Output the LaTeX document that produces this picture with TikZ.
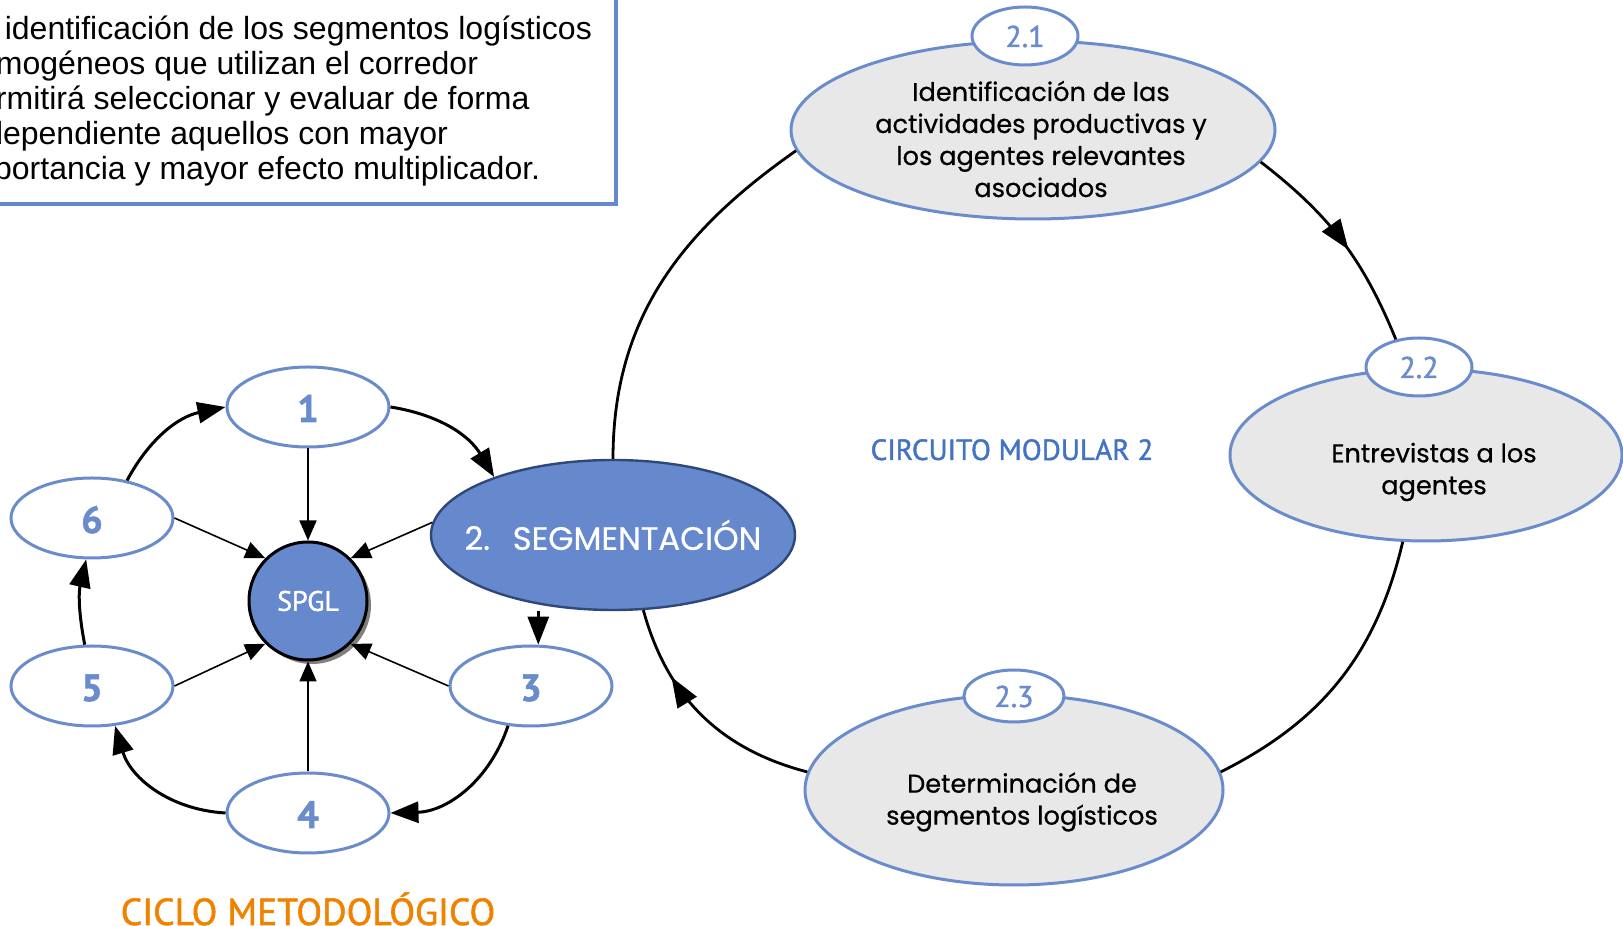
\documentclass[tikz,border=0pt]{standalone}
\usepackage{fontspec}
\setmainfont{Liberation Sans}
\newfontfamily\gothicfont{Poppins}[FakeBold=0.6]
\newfontfamily\tcfont{PT Sans}[FakeBold=1.4]
\usetikzlibrary{arrows.meta,shapes.geometric,shadows,decorations.markings}

\tikzset{
  stepell/.style={ellipse, draw={rgb,255:red,106;green,140;blue,204}, line width=1.5pt, fill=white, inner sep=0pt,
    minimum width=81pt, minimum height=40pt, text={rgb,255:red,106;green,140;blue,204},
    font=\tcfont\bfseries\fontsize{19pt}{22pt}\selectfont, text height=15pt, text depth=0pt},
  tagell/.style={stepell, minimum width=53pt, minimum height=29pt, font=\tcfont\fontsize{15pt}{18pt}\selectfont,
    text height=11pt},
  subell/.style={ellipse, draw={rgb,255:red,106;green,140;blue,204}, line width=1.5pt, fill={rgb,255:red,232;green,232;blue,232}, inner sep=0pt},
  subtxt/.style={align=center, inner sep=0pt, font=\gothicfont\fontsize{12.8pt}{16pt}\selectfont},
  cyc/.style={line width=1.5pt, -{Triangle[length=14pt,width=10.5pt]}},
  ray/.style={line width=0.8pt, -{Triangle[length=10pt,width=8.5pt]}},
  loopline/.style={line width=1.4pt},
  midtip/.style={postaction={decorate}, decoration={markings, mark=at position #1 with {\arrow{Triangle[length=15pt,width=11pt]}}}},
  midtip/.default=0.5
}

\begin{document}
\begin{tikzpicture}[x=0.5pt,y=0.5pt]
\useasboundingbox (0,0) rectangle (1623,926);
\clip (0,0) rectangle (1623,926);

% Text box
\draw [color={rgb, 255:red, 100; green, 135; blue, 205 }, line width=1.6pt] (-20,722) rectangle (616,950);
\node [anchor=north west, inner sep=0pt, align=left, font=\fontsize{16pt}{17.5pt}\selectfont] (note) at (-40,910)
  {La identificación de los segmentos logísticos\\homogéneos que utilizan el corredor\\permitirá seleccionar y evaluar de forma\\independiente aquellos con mayor\\importancia y mayor efecto multiplicador.};

%Ciclo: steps
\node [stepell] (e1) at (308,519) {1};
\node [stepell] (e6) at (92,408) {6};
\node [stepell] (e5) at (92,240) {5};
\node [stepell] (e4) at (308,113) {4};
\node [stepell] (e3) at (531,240) {3};
\node [ellipse, fill={rgb,255:red,102;green,136;blue,204}, draw={rgb,255:red,47;green,72;blue,122}, line width=1.2pt,
  minimum width=182pt, minimum height=75pt, inner xsep=-10pt, inner ysep=0pt, text=white,
  font=\gothicfont\fontsize{16.2pt}{19pt}\selectfont] (seg) at (613,391) {2.\hspace{0.7em}SEGMENTACIÓN};
\node [circle, fill={rgb,255:red,102;green,136;blue,204}, draw=black, line width=1.5pt, minimum size=59pt, inner sep=0pt,
  text=white, font=\tcfont\fontsize{14pt}{16pt}\selectfont,
  drop shadow={shadow xshift=2pt, shadow yshift=-2pt, fill=black!50, opacity=1}] (spgl) at (308,325) {SPGL};

%Circuito modular 2
\node [subell, minimum width=242pt, minimum height=89pt] (e21) at (1033,796) {};
\node [subtxt] (e21t) at (1041,787) {Identificación de las\\actividades productivas y\\los agentes relevantes\\asociados};
\node [tagell] (t21) at (1025,890) {2.1};
\node [subell, minimum width=196pt, minimum height=86pt] (e22) at (1426,471) {};
\node [subtxt] (e22t) at (1434,454) {Entrevistas a los\\agentes};
\node [tagell] (t22) at (1419,559) {2.2};
\node [subell, minimum width=209pt, minimum height=95pt] (e23) at (1014,136) {};
\node [subtxt] (e23t) at (1022,124) {Determinación de\\segmentos logísticos};
\node [tagell, minimum width=50pt, minimum height=26pt] (t23) at (1014,230) {2.3};

% Text Node
\node [anchor=base, inner sep=0pt, font=\tcfont\fontsize{14.6pt}{17pt}\selectfont, text={rgb,255:red,68;green,114;blue,196}] (circ) at (1012,466) {CIRCUITO MODULAR 2};
% Text Node
\node [anchor=base, inner sep=0pt, font=\tcfont\fontsize{18.8pt}{21pt}\selectfont, text={rgb,255:red,240;green,130;blue,0}] (ciclo) at (308,1) {CICLO METODOLÓGICO};

%Ciclo: arrows
\draw [cyc] (e1.east) to[bend left=25] (seg.154);
\draw [cyc] (e3.80 |- seg.south) -- (e3.80);
\draw [cyc] (e3.240) to[bend left=35] (e4.east);
\draw [cyc] (e4.west) to[bend left=35] (e5.300);
\draw [cyc] (e5.100) to[bend left=12] (e6.262);
\draw [cyc] (e6.47) to[bend left=25] (e1.west);
\draw [ray] (e1.south) -- (spgl.north);
\draw [ray] (e6.east) -- (spgl.135);
\draw [ray] (e5.east) -- (spgl.225);
\draw [ray] (e4.north) -- (spgl.south);
\draw [ray] (e3.west) -- (spgl.315);
\draw [ray] (seg.176) -- (spgl.45);

%Circuito: lines
\draw [loopline] (seg.north) to[out=90,in=215] (e21.185);
\draw [loopline, midtip=0.55] (e21.352) to[bend left=15] (t22.130);
\draw [loopline] (e22.255) to[bend left=25] (e23.5);
\draw [loopline, midtip=0.7] (e23.175) to[bend left=30] (seg.292);

\end{tikzpicture}
\end{document}
